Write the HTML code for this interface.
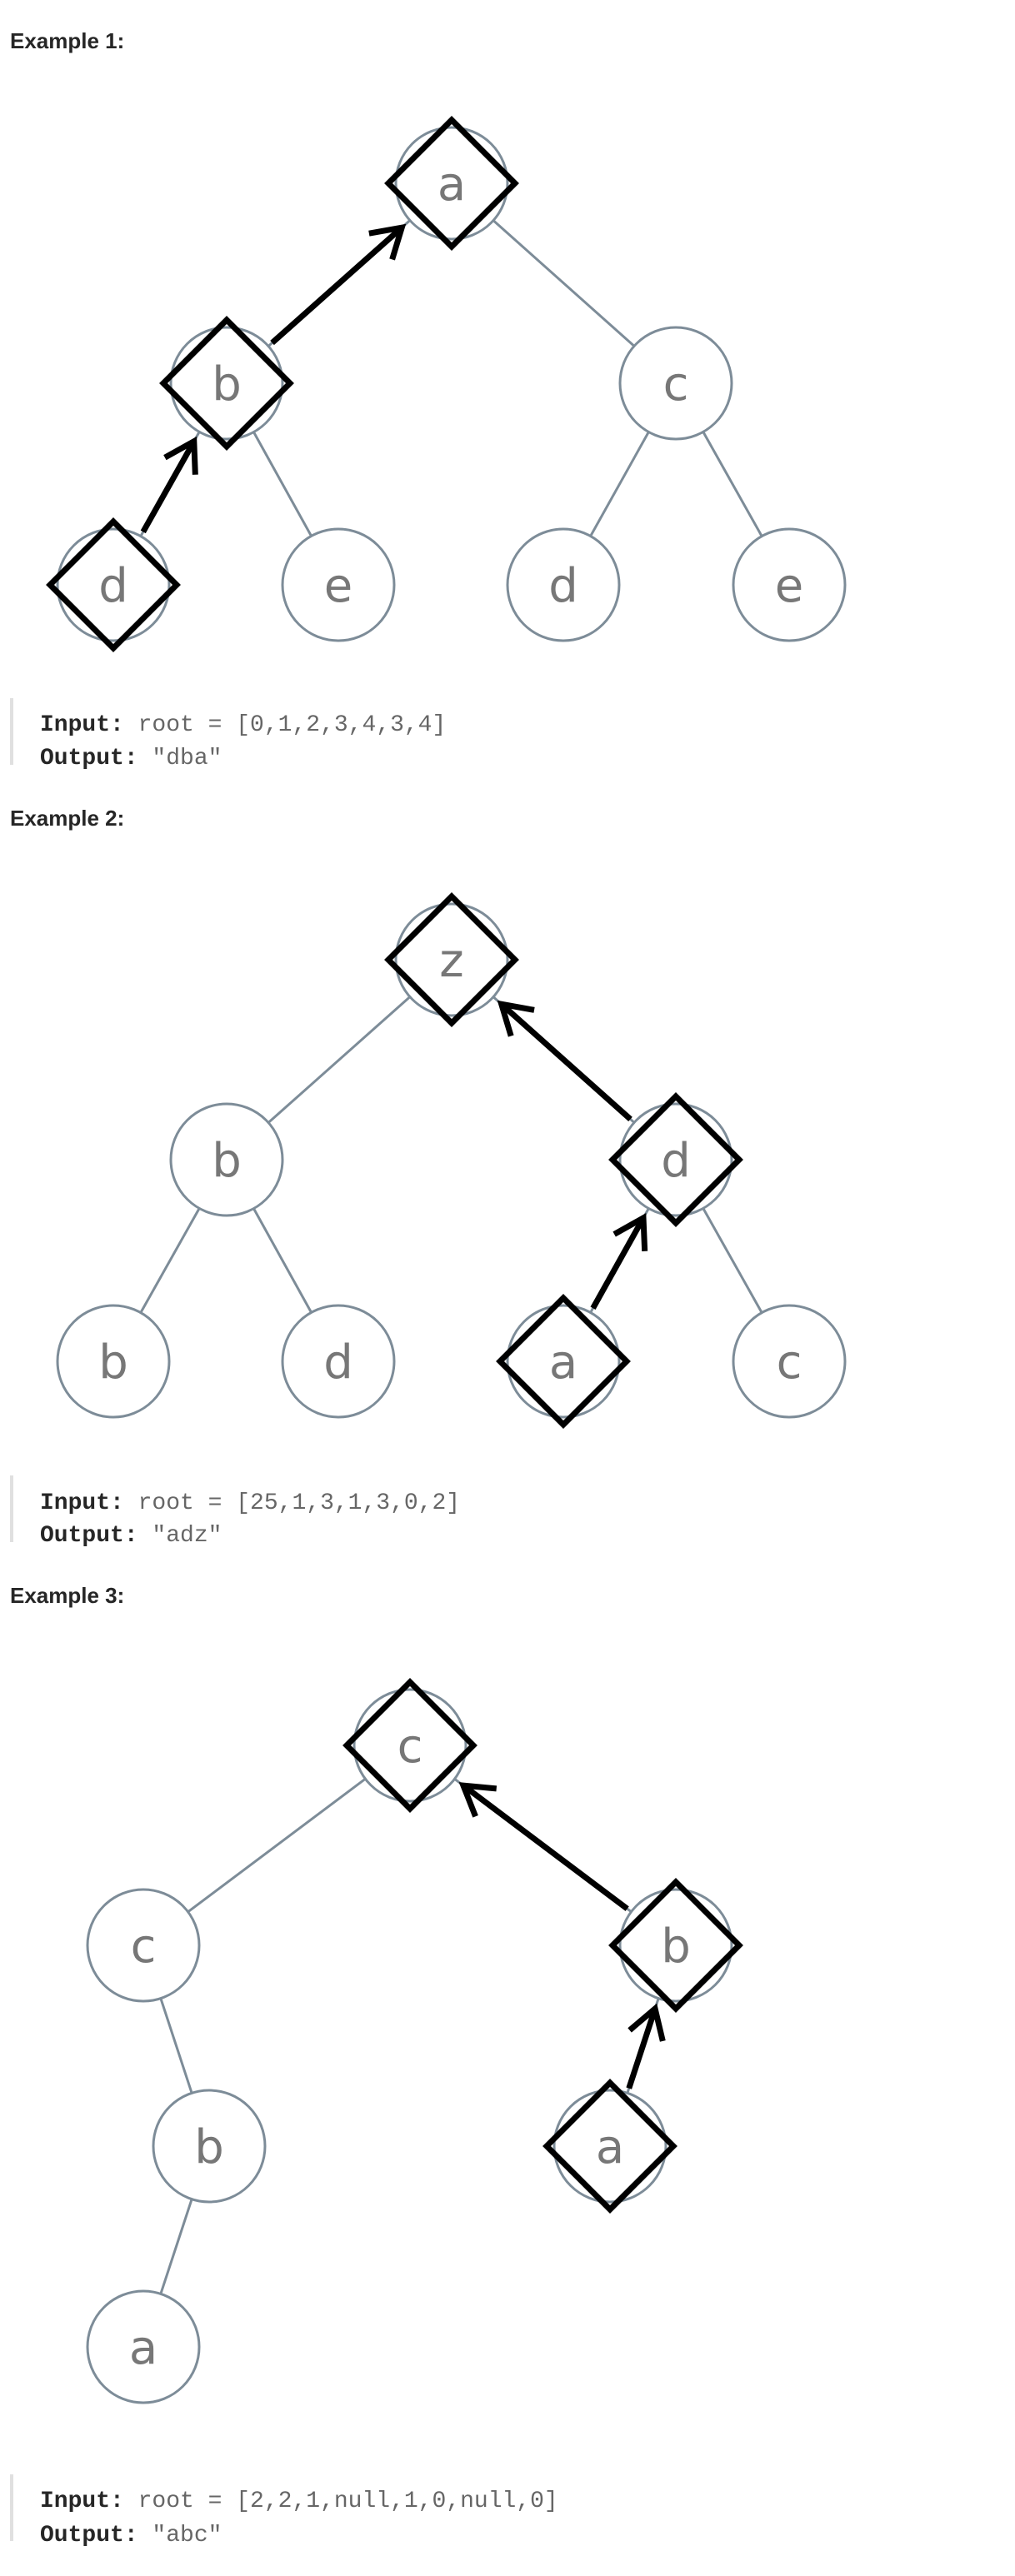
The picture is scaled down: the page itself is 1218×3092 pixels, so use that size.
<!DOCTYPE html>
<html><head><meta charset="utf-8">
<style>
html,body{margin:0;padding:0;background:#fff;}
body{width:1218px;height:3092px;overflow:hidden;position:relative;}
svg{position:absolute;left:0;top:0;}
</style></head>
<body>
<svg id="s" width="1218" height="3092" viewBox="0 0 1218 3092" xmlns="http://www.w3.org/2000/svg">
<g font-family="Liberation Sans, sans-serif" font-weight="bold" font-size="26" fill="#262626">
<text x="12" y="58">Example 1:</text>
<text x="12" y="991">Example 2:</text>
<text x="12" y="1924">Example 3:</text>
</g>
<g fill="#e0e0e0">
<rect x="12" y="838" width="4" height="80"/>
<rect x="12" y="1771" width="4" height="80"/>
<rect x="12" y="2970" width="4" height="80"/>
</g>
<g font-family="Liberation Mono, monospace" font-size="28">
<text x="48" y="877"><tspan fill="#262626" font-weight="bold">Input:</tspan><tspan fill="#666"> root = [0,1,2,3,4,3,4]</tspan></text>
<text x="48" y="917"><tspan fill="#262626" font-weight="bold">Output:</tspan><tspan fill="#666"> "dba"</tspan></text>
<text x="48" y="1811"><tspan fill="#262626" font-weight="bold">Input:</tspan><tspan fill="#666"> root = [25,1,3,1,3,0,2]</tspan></text>
<text x="48" y="1850"><tspan fill="#262626" font-weight="bold">Output:</tspan><tspan fill="#666"> "adz"</tspan></text>
<text x="48" y="3009"><tspan fill="#262626" font-weight="bold">Input:</tspan><tspan fill="#666"> root = [2,2,1,null,1,0,null,0]</tspan></text>
<text x="48" y="3050"><tspan fill="#262626" font-weight="bold">Output:</tspan><tspan fill="#666"> "abc"</tspan></text>
</g>
<g id="edges" stroke="#7d8c98" stroke-width="3" fill="none"></g>
<g id="nodes"></g>
<g id="arrows" stroke="#000" stroke-width="7" fill="none" stroke-linecap="butt"></g>
</svg>
<script>
var NS="http://www.w3.org/2000/svg",R=67,D=76;
function el(p,t,a,txt){var e=document.createElementNS(NS,t);for(var k in a)e.setAttribute(k,a[k]);if(txt)e.textContent=txt;document.getElementById(p).appendChild(e);return e;}
var trees=[
 {n:[[542,220,'a',1],[272,460,'b',1],[811,460,'c'],[136,702,'d',1],[406,702,'e'],[676,702,'d'],[947,702,'e']],
  e:[[0,1],[0,2],[1,3],[1,4],[2,5],[2,6]],a:[[3,1],[1,0]]},
 {n:[[542,1152,'z',1],[272,1392,'b'],[811,1392,'d',1],[136,1634,'b'],[406,1634,'d'],[676,1634,'a',1],[947,1634,'c']],
  e:[[0,1],[0,2],[1,3],[1,4],[2,5],[2,6]],a:[[5,2],[2,0]]},
 {n:[[492,2095,'c',1],[172,2335,'c'],[811,2335,'b',1],[251,2576,'b'],[732,2576,'a',1],[172,2817,'a']],
  e:[[0,1],[0,2],[1,3],[2,4],[3,5]],a:[[4,2],[2,0]]}
];
trees.forEach(function(t){
 t.e.forEach(function(p){var A=t.n[p[0]],B=t.n[p[1]];var dx=B[0]-A[0],dy=B[1]-A[1],L=Math.hypot(dx,dy),ux=dx/L,uy=dy/L;
  el('edges','line',{x1:A[0]+ux*R,y1:A[1]+uy*R,x2:B[0]-ux*R,y2:B[1]-uy*R});});
 t.n.forEach(function(n){
  el('nodes','circle',{cx:n[0],cy:n[1],r:R,fill:'#fff',stroke:'#7d8c98','stroke-width':3});
  if(n[3])el('nodes','polygon',{points:(n[0])+','+(n[1]-D)+' '+(n[0]+D)+','+n[1]+' '+n[0]+','+(n[1]+D)+' '+(n[0]-D)+','+n[1],fill:'none',stroke:'#000','stroke-width':7});
  el('nodes','text',{x:n[0],y:n[1]+20,'text-anchor':'middle','font-family':'DejaVu Sans, sans-serif','font-size':'56',fill:'#777'},n[2]);
 });
 t.a.forEach(function(p){var A=t.n[p[0]],B=t.n[p[1]];var dx=B[0]-A[0],dy=B[1]-A[1],L=Math.hypot(dx,dy),ux=dx/L,uy=dy/L;
  var sx=A[0]+ux*73,sy=A[1]+uy*73,ex=B[0]-ux*80,ey=B[1]-uy*80;
  el('arrows','line',{x1:sx,y1:sy,x2:ex,y2:ey});
  var al=40,ang=0.55,bx=-ux,by=-uy;
  function rot(c,s){return [bx*c-by*s,bx*s+by*c];}
  var r1=rot(Math.cos(ang),Math.sin(ang)),r2=rot(Math.cos(-ang),Math.sin(-ang));
  el('arrows','polyline',{points:(ex+r1[0]*al)+','+(ey+r1[1]*al)+' '+ex+','+ey+' '+(ex+r2[0]*al)+','+(ey+r2[1]*al)});
 });
});
</script>
</body></html>
